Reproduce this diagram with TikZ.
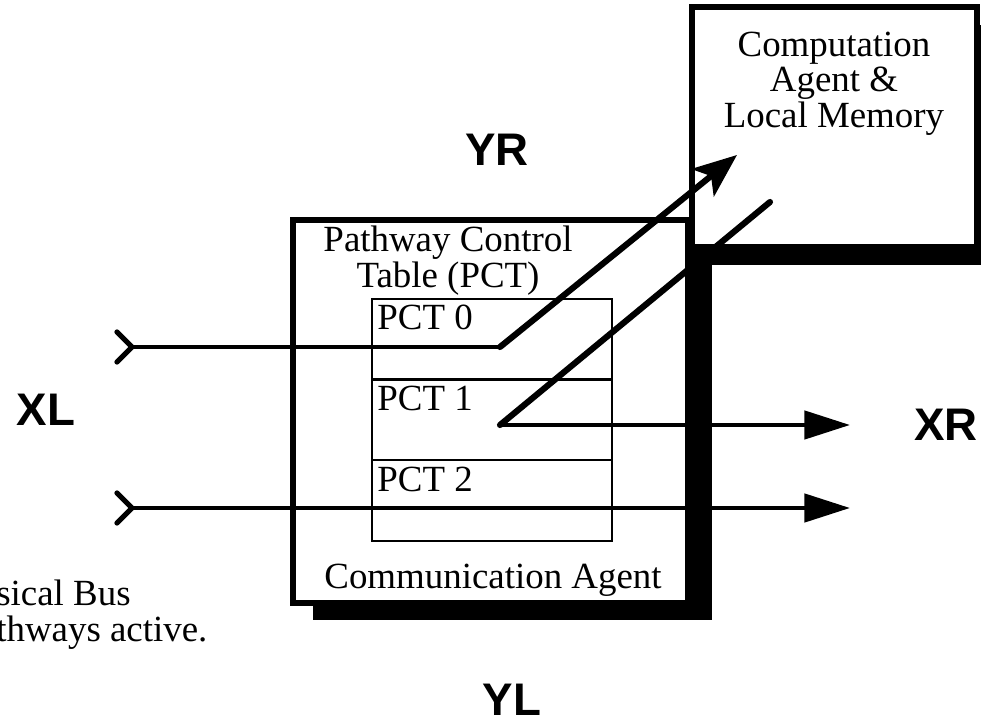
\documentclass[tikz,border=0pt]{standalone}
\usepackage{fontspec}
\setmainfont{Liberation Serif}
\newfontfamily\labelfont{Liberation Sans}
\usetikzlibrary{calc,positioning,arrows.meta}
\def\buschevron(#1){\draw[line width=3pt, line cap=round, line join=miter] ($(#1)+(-15,-15)$) -- (#1) -- ($(#1)+(-15,15)$);}
\tikzset{
	box/.style={draw, line width=3pt, fill=white, inner sep=0pt},
	pctrow/.style={draw, line width=1.3pt, minimum width=4.8cm, minimum height=1.613cm, inner sep=0pt, outer sep=0pt},
	bus/.style={line width=2.5pt},
	diag/.style={line width=3.5pt, line cap=round},
	txt/.style={font=\fontsize{21}{20}\selectfont, align=center, inner sep=0pt},
	side/.style={font=\labelfont\bfseries\fontsize{26}{26}\selectfont, inner sep=0pt},
}

\begin{document}
\begin{tikzpicture}[x=0.02cm, y=-0.02cm]
			%%%%% START %%%%%
			
			\clip (0,0) rectangle (981,719);
			
			% communication agent
			\fill (313,237) rectangle (712,620);
			\node[box, minimum width=7.9cm, minimum height=7.66cm] (comm) at (490.5,411.5) {};
			\node[txt, anchor=north] (pcttitle) at (448,226) {Pathway Control\\Table (PCT)};
			\node[txt, anchor=base] (commtext) at (493,588) {Communication Agent};
			
			% computation agent
			\fill (712,25) rectangle (1000,265);
			\node[box, minimum width=5.7cm, minimum height=4.8cm] (comp) at (834.5,127) {};
			\node[txt, anchor=north] (comptext) at (834,32) {Computation\\Agent \&\\Local Memory};
			
			% pathway control table
			\node[pctrow] (pct0) at (492,339.3) {};
			\node[pctrow, below=0pt of pct0] (pct1) {};
			\node[pctrow, below=0pt of pct1] (pct2) {};
			\node[txt, anchor=north west] (pct0lbl) at ($(pct0.north west)+(5,6)$) {PCT 0};
			\node[txt, anchor=north west] (pct1lbl) at ($(pct1.north west)+(5,6)$) {PCT 1};
			\node[txt, anchor=north west] (pct2lbl) at ($(pct2.north west)+(5,6)$) {PCT 2};
			
			\coordinate (inA) at (132,347);
			\coordinate (bendA) at (500,347);
			\coordinate (tipA) at (737,155);
			\coordinate (retC) at (770,202);
			\coordinate (bendC) at (500,425);
			\coordinate (outC) at (850,425);
			\coordinate (inB) at (132,508);
			\coordinate (outB) at (850,508);
			
			\draw[bus] (inA) -- (bendA);
			\draw[diag, -{Stealth[length=25pt, width=20pt, inset=6pt]}] (bendA) -- (tipA);
			\draw[diag] (retC) -- (bendC);
			\draw[bus, -{Triangle[length=26pt, width=16pt]}] (bendC) -- (outC);
			\draw[bus, -{Triangle[length=26pt, width=16pt]}] (inB) -- (outB);
			\buschevron(inA)
			\buschevron(inB)
			
			\node[side] (yr) at (497,150) {YR};
			\node[side] (xl) at (46,410) {XL};
			\node[side] (xr) at (946,425) {XR};
			\node[side] (yl) at (512,700) {YL};
			
			\node[txt, anchor=base west] (cap1) at (-4,605) {sical Bus};
			\node[txt, anchor=base west] (cap2) at (-4,642) {thways active.};
			
			%%%%% END %%%%%
\end{tikzpicture}
\end{document}
